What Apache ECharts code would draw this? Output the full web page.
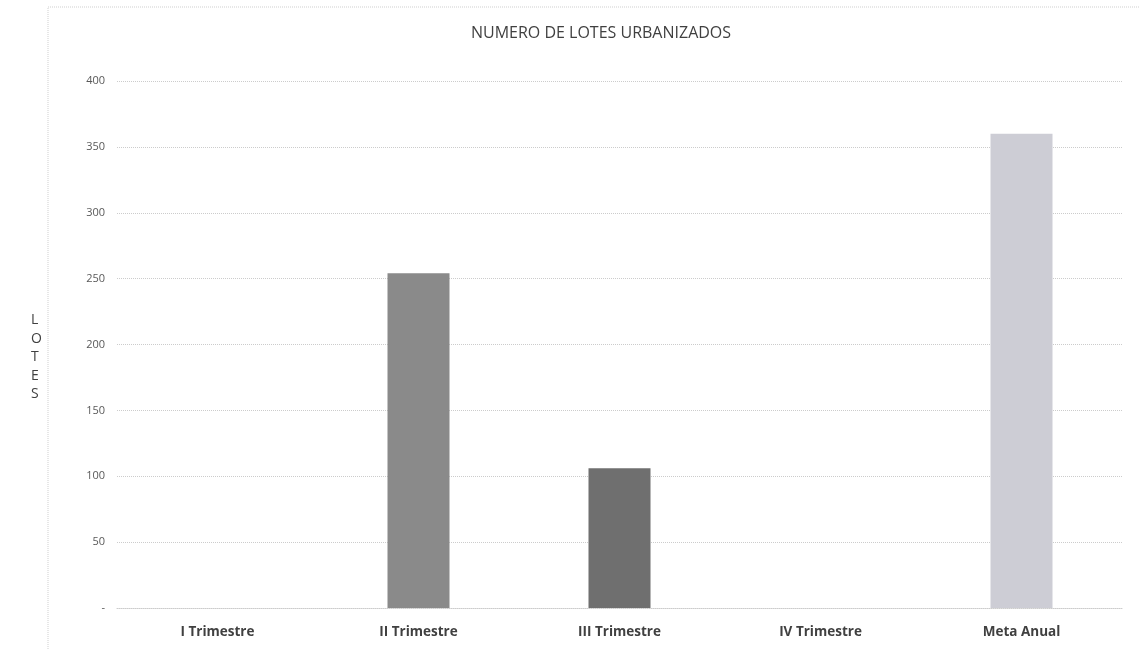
<!DOCTYPE html>
<html>
<head>
<meta charset="utf-8">
<script src="https://cdn.jsdelivr.net/npm/echarts@6/dist/echarts.min.js"></script>
<style>
html,body{margin:0;padding:0;background:#fff;}
#chart{width:1139px;height:650px;}
</style>
</head>
<body>
<div id="chart"></div>
<script>
const title = 'NUMERO DE LOTES URBANIZADOS';
const yAxisTitle = 'L\nO\nT\nE\nS';
const categories = ['I Trimestre', 'II Trimestre', 'III Trimestre', 'IV Trimestre', 'Meta Anual'];
const lotes = [null, 254, 106, null, 360];
const barColors = ['#8a8a8a', '#8a8a8a', '#6f6f6f', '#8a8a8a', '#cdcdd5'];
const yTicks = [0, 50, 100, 150, 200, 250, 300, 350, 400];

const chart = echarts.init(document.getElementById('chart'));
chart.setOption({
  backgroundColor: '#ffffff',
  animation: false,
  title: {
    text: title,
    left: 596,
    top: 20,
    textAlign: 'center',
    textStyle: { fontFamily: 'Open Sans', fontSize: 16, fontWeight: 'normal', color: '#404040' }
  },
  graphic: [{
    type: 'rect',
    shape: { x: 48, y: 7, width: 1200, height: 700 },
    style: { fill: 'none', stroke: '#cfcfcf', lineWidth: 1, lineDash: [1, 1] },
    silent: true
  }, {
    type: 'text',
    left: 31,
    top: 311,
    style: {
      text: yAxisTitle,
      fontFamily: 'Open Sans', fontSize: 14, fill: '#404040', lineHeight: 18.5, align: 'center'
    },
    silent: true
  }],
  grid: { left: 117, right: 17, top: 81, bottom: 42, containLabel: false },
  xAxis: {
    type: 'category',
    data: categories,
    axisLine: { show: true, lineStyle: { color: '#cccccc', type: [1, 1] } },
    axisTick: { show: false },
    axisLabel: {
      margin: 17,
      fontFamily: 'Open Sans', fontSize: 13.5, fontWeight: 'bold', color: '#404040'
    }
  },
  yAxis: {
    type: 'value',
    min: 0, max: 400, interval: 50,
    axisLine: { show: false },
    axisTick: { show: false },
    axisLabel: {
      margin: 12,
      fontFamily: 'Open Sans', fontSize: 11, color: '#595959',
      formatter: function (v) { return v === 0 ? '-' : String(v); }
    },
    splitLine: { show: true, lineStyle: { color: '#cccccc', type: [1, 1], width: 1 } }
  },
  series: [{
    type: 'bar',
    data: lotes.map(function (v, i) { return { value: v, itemStyle: { color: barColors[i] } }; }),
    barWidth: 62
  }]
});
</script>
</body>
</html>
